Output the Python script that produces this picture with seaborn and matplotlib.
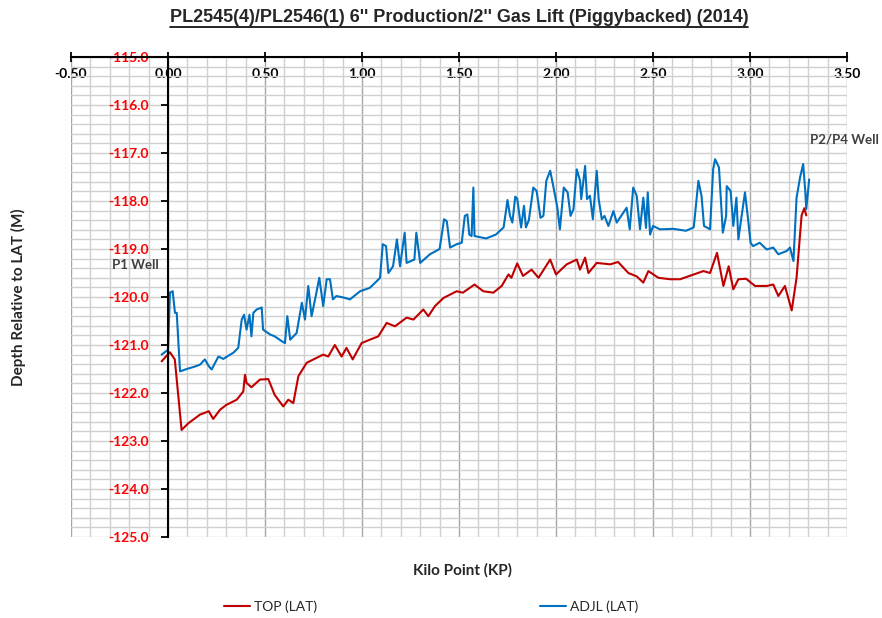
import seaborn as sns
import matplotlib.pyplot as plt
import matplotlib.ticker as mticker
from matplotlib.lines import Line2D
import pandas as pd


# TOP (LAT)
kp_top = [-0.033, 0.01, 0.035, 0.07, 0.105, 0.165, 0.21, 0.233, 0.268, 0.30,
          0.354, 0.388, 0.397, 0.405, 0.43, 0.474, 0.517, 0.55, 0.594, 0.62,
          0.646, 0.672, 0.715, 0.80, 0.826, 0.86, 0.895, 0.92, 0.952, 0.998,
          1.04, 1.084, 1.127, 1.17, 1.23, 1.265, 1.316, 1.342, 1.376, 1.42,
          1.454, 1.488, 1.52, 1.58, 1.625, 1.677, 1.72, 1.755, 1.77, 1.80,
          1.83, 1.874, 1.91, 1.97, 2.0, 2.055, 2.107, 2.124, 2.15, 2.167,
          2.21, 2.28, 2.32, 2.373, 2.416, 2.45, 2.476, 2.528, 2.588, 2.64,
          2.71, 2.76, 2.794, 2.83, 2.863, 2.89, 2.914, 2.94, 2.98, 3.026,
          3.086, 3.12, 3.146, 3.18, 3.215, 3.24, 3.266, 3.28, 3.29]
depth_top = [-121.34, -121.15, -121.3, -122.77, -122.63, -122.45, -122.38, -122.54, -122.35, -122.25,
             -122.14, -121.97, -121.62, -121.79, -121.88, -121.72, -121.71, -122.04, -122.28, -122.14,
             -122.21, -121.65, -121.37, -121.2, -121.24, -121.0, -121.24, -121.06, -121.3, -120.96,
             -120.89, -120.82, -120.54, -120.61, -120.43, -120.47, -120.26, -120.40, -120.19, -120.02,
             -119.95, -119.88, -119.91, -119.74, -119.88, -119.91, -119.77, -119.53, -119.6, -119.30,
             -119.56, -119.43, -119.6, -119.22, -119.53, -119.32, -119.22, -119.43, -119.18, -119.50,
             -119.29, -119.32, -119.27, -119.50, -119.57, -119.70, -119.46, -119.60, -119.63, -119.63,
             -119.53, -119.46, -119.50, -119.08, -119.77, -119.36, -119.84, -119.63, -119.62, -119.77,
             -119.77, -119.74, -119.98, -119.77, -120.28, -119.6, -118.3, -118.15, -118.3]

# ADJL (LAT)
kp_adjl = [-0.033, 0.0, 0.01, 0.024, 0.036, 0.045, 0.062, 0.096, 0.13, 0.165,
           0.19, 0.21, 0.225, 0.26, 0.285, 0.337, 0.362, 0.38, 0.392, 0.405,
           0.42, 0.43, 0.44, 0.457, 0.483, 0.49, 0.526, 0.55, 0.586, 0.603,
           0.615, 0.63, 0.663, 0.69, 0.706, 0.723, 0.74, 0.758, 0.78, 0.80,
           0.818, 0.835, 0.85, 0.868, 0.904, 0.938, 0.99, 1.04, 1.076, 1.093,
           1.107, 1.124, 1.136, 1.16, 1.18, 1.196, 1.22, 1.23, 1.27, 1.28,
           1.30, 1.35, 1.40, 1.423, 1.437, 1.454, 1.488, 1.514, 1.53, 1.543,
           1.553, 1.565, 1.574, 1.58, 1.64, 1.69, 1.73, 1.75, 1.763, 1.775,
           1.79, 1.80, 1.82, 1.835, 1.845, 1.86, 1.883, 1.90, 1.92, 1.935,
           1.95, 1.97, 1.986, 2.007, 2.02, 2.04, 2.06, 2.075, 2.09, 2.107,
           2.124, 2.13, 2.15, 2.16, 2.175, 2.19, 2.21, 2.22, 2.236, 2.25,
           2.27, 2.296, 2.313, 2.364, 2.38, 2.398, 2.416, 2.433, 2.45, 2.464,
           2.473, 2.485, 2.50, 2.536, 2.605, 2.67, 2.71, 2.734, 2.75, 2.763,
           2.794, 2.81, 2.82, 2.84, 2.86, 2.877, 2.88, 2.90, 2.914, 2.93,
           2.94, 2.974, 2.99, 3.003, 3.016, 3.05, 3.086, 3.12, 3.146, 3.19,
           3.206, 3.224, 3.24, 3.258, 3.274, 3.285, 3.29, 3.305]
depth_adjl = [-121.2, -121.1, -119.91, -119.88, -120.33, -120.33, -121.55, -121.5, -121.46, -121.41,
              -121.3, -121.44, -121.51, -121.24, -121.29, -121.16, -121.06, -120.47, -120.37, -120.68,
              -120.37, -120.82, -120.33, -120.26, -120.22, -120.68, -120.78, -120.82, -120.92, -120.96,
              -120.40, -120.89, -120.75, -120.12, -120.47, -119.77, -120.40, -120.05, -119.6, -120.19,
              -119.63, -119.63, -120.05, -119.98, -120.01, -120.05, -119.88, -119.81, -119.67, -119.6,
              -118.9, -118.94, -119.5, -119.36, -118.8, -119.36, -118.66, -119.29, -119.22, -118.66,
              -119.29, -119.11, -119.0, -118.38, -118.42, -118.97, -118.90, -118.87, -118.31, -118.28,
              -118.70, -118.73, -117.72, -118.73, -118.78, -118.70, -118.55, -117.98, -118.31, -118.45,
              -117.91, -117.95, -118.55, -118.10, -118.55, -118.40, -117.72, -117.79, -118.35, -118.31,
              -117.58, -117.37, -117.69, -118.14, -118.59, -117.72, -117.82, -118.31, -118.17, -117.34,
              -117.58, -117.96, -117.27, -117.96, -117.89, -118.38, -117.37, -117.96, -118.38, -118.31,
              -118.52, -118.21, -118.45, -118.14, -118.59, -117.72, -117.89, -118.59, -117.93, -118.56,
              -117.82, -118.7, -118.52, -118.59, -118.58, -118.62, -118.55, -117.58, -117.89, -118.52,
              -118.59, -117.34, -117.13, -117.30, -118.66, -118.31, -117.69, -117.79, -118.52, -117.93,
              -118.80, -117.82, -118.38, -118.87, -118.94, -118.87, -119.01, -118.97, -119.11, -119.04,
              -118.97, -119.25, -117.93, -117.51, -117.23, -117.8, -118.17, -117.55]

title = 'PL2545(4)/PL2546(1) 6\'\' Production/2\'\' Gas Lift (Piggybacked) (2014)'

sns.set_style('white')
plt.rcParams['font.family'] = ['Lato', 'DejaVu Sans']
plt.rcParams['font.weight'] = 'bold'

fig = plt.figure(figsize=(8.82, 6.18), dpi=100)
ax = fig.add_axes([71 / 882, 1 - 537 / 618, 776 / 882, 480 / 618])

top_df = pd.DataFrame({'KP': kp_top, 'Depth': depth_top})
adjl_df = pd.DataFrame({'KP': kp_adjl, 'Depth': depth_adjl})
sns.lineplot(data=top_df, x='KP', y='Depth', color='#C00000', lw=1.5,
             sort=False, estimator=None, label='TOP (LAT)', ax=ax)
sns.lineplot(data=adjl_df, x='KP', y='Depth', color='#0070C0', lw=1.5,
             sort=False, estimator=None, label='ADJL (LAT)', ax=ax)

ax.set_xlim(-0.5, 3.5)
ax.set_ylim(-125, -115)
ax.xaxis.set_major_locator(mticker.MultipleLocator(0.5))
ax.xaxis.set_minor_locator(mticker.MultipleLocator(0.1))
ax.yaxis.set_major_locator(mticker.MultipleLocator(1.0))
ax.yaxis.set_minor_locator(mticker.MultipleLocator(0.2))
ax.xaxis.set_major_formatter(mticker.FormatStrFormatter('%.2f'))
ax.yaxis.set_major_formatter(mticker.FormatStrFormatter('%.1f'))

# excel style grid
ax.set_axisbelow(True)
ax.grid(which='minor', color='#d0d0d0', lw=1.0)
ax.grid(which='major', axis='y', color='#d0d0d0', lw=1.0)
ax.grid(which='major', axis='x', color='#a6a6a6', lw=1.0)

# axes: x along the top, y crossing at KP 0
ax.spines['bottom'].set_visible(False)
ax.spines['right'].set_visible(False)
ax.spines['top'].set_color('black')
ax.spines['top'].set_linewidth(1.5)
ax.spines['left'].set_position(('data', 0))
ax.spines['left'].set_color('black')
ax.spines['left'].set_linewidth(1.5)

ax.tick_params(which='minor', length=0)
ax.tick_params(axis='x', which='major', top=True, bottom=False, labeltop=True,
               labelbottom=False, direction='inout', length=7, width=1.3,
               pad=-20, labelsize=10, colors='black')
ax.tick_params(axis='y', which='major', left=True, direction='out', length=5,
               width=1.3, pad=9, labelsize=10, color='black', labelcolor='red')

ax.set_xlabel('')
ax.set_ylabel('Depth Relative to LAT (M)', fontsize=11, fontweight='bold')
ax.yaxis.set_label_coords(-0.058, 0.5)
ax.text(0.504, -0.069, 'Kilo Point (KP)', transform=ax.transAxes,
        ha='center', va='center', fontsize=11, fontweight='bold')

ax.text(-0.29, -119.34, 'P1 Well', ha='left', va='center', fontsize=9.5, color='#404040')
ax.text(3.31, -116.71, 'P2/P4 Well', ha='left', va='center', fontsize=9.5,
        color='#404040', clip_on=False)

ax.legend(loc='center', bbox_to_anchor=(431 / 882, 1 - 607 / 618),
          bbox_transform=fig.transFigure, ncol=2, frameon=False,
          columnspacing=16, handlelength=1.9, handletextpad=0.3,
          prop={'weight': 'normal', 'size': 10})

t = fig.text(459 / 882, 1 - 17 / 618, title, ha='center', va='center',
             fontsize=13, fontweight='bold', family=['Liberation Sans'])

# underline the title
fig.canvas.draw()
bb = t.get_window_extent(fig.canvas.get_renderer())
W, H = fig.bbox.width, fig.bbox.height
fig.add_artist(Line2D([bb.x0 / W, bb.x1 / W], [(bb.y0 - 1) / H] * 2,
                      transform=fig.transFigure, color='black', lw=1.2))

fig.savefig('out.png', dpi=100)
